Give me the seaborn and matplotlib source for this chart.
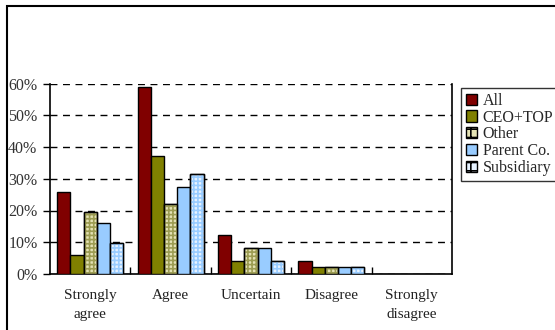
import matplotlib
matplotlib.use("Agg")
import matplotlib.pyplot as plt
from matplotlib.patches import Rectangle, Patch
from matplotlib.ticker import FixedLocator, PercentFormatter
import seaborn as sns
import pandas as pd

categories = ["Strongly\nagree", "Agree", "Uncertain", "Disagree", "Strongly\ndisagree"]
groups = ["All", "CEO+TOP", "Other", "Parent Co.", "Subsidiary"]

all_resp = [25.8, 58.9, 12.2, 4.2, 0.0]
ceo_top = [5.9, 37.3, 4.2, 2.1, 0.0]
other = [19.6, 21.9, 8.1, 2.1, 0.0]
parent_co = [16.1, 27.5, 8.1, 2.1, 0.0]
subsidiary = [9.8, 31.5, 4.2, 2.1, 0.0]

series = [all_resp, ceo_top, other, parent_co, subsidiary]
rows = []
for g, vals in zip(groups, series):
    for c, v in zip(categories, vals):
        rows.append({"category": c, "group": g, "value": v})
df = pd.DataFrame(rows)

face = ["#800000", "#808000", "#e4e2b4", "#99ccff", "#e6f2ff"]
hatch_spec = [None, None, ("++++", "#9c9c52"), None, ("++++", "#99ccff")]

sns.set_theme(style="white")
plt.rcParams["font.family"] = ["Liberation Serif", "DejaVu Serif"]
plt.rcParams["hatch.linewidth"] = 1.2

fig = plt.figure(figsize=(5.55, 3.30), dpi=100)
ax = fig.add_axes([50 / 555, 1 - 274 / 330, 402 / 555, (274 - 83.5) / 330])

sns.barplot(data=df, x="category", y="value", hue="group", order=categories,
            hue_order=groups, palette=face, width=0.82, gap=0, saturation=1,
            edgecolor="black", linewidth=1, ax=ax, legend=False, zorder=3)

# patterned fills for two of the series
for cont, spec in zip(ax.containers, hatch_spec):
    if spec is None:
        continue
    pat, col = spec
    for bar in cont:
        if bar.get_height() <= 0:
            continue
        ov = Rectangle(bar.get_xy(), bar.get_width(), bar.get_height(),
                       facecolor="none", edgecolor=col, hatch=pat, linewidth=0,
                       zorder=3.5)
        ax.add_patch(ov)
        edge = Rectangle(bar.get_xy(), bar.get_width(), bar.get_height(),
                         facecolor="none", edgecolor="black", linewidth=1,
                         zorder=3.6)
        ax.add_patch(edge)

ax.set_xlim(-0.5, len(categories) - 0.5)
ax.set_ylim(0, 60)
ax.yaxis.set_major_locator(FixedLocator([0, 10, 20, 30, 40, 50, 60]))
ax.yaxis.set_major_formatter(PercentFormatter(decimals=0))
ax.grid(axis="y", color="black", linestyle=(0, (5, 4)), linewidth=1, zorder=0)
ax.set_axisbelow(True)

ax.set_xlabel("")
ax.set_ylabel("")
ax.tick_params(axis="y", direction="out", length=5, width=1, color="black",
               labelsize=11.5, labelcolor="#333333", pad=4, left=True)
ax.tick_params(axis="x", which="major", length=0, labelsize=11,
               labelcolor="#222222", pad=11)
for lbl in ax.get_xticklabels():
    lbl.set_linespacing(1.55)
ax.xaxis.set_minor_locator(FixedLocator([0.5, 1.5, 2.5, 3.5]))
ax.tick_params(axis="x", which="minor", direction="in", length=5, width=1,
               color="black", bottom=True)

for side in ["left", "bottom", "right"]:
    ax.spines[side].set_visible(True)
    ax.spines[side].set_color("black")
    ax.spines[side].set_linewidth(1.2)
ax.spines["top"].set_visible(False)

handles = []
for i, g in enumerate(groups):
    spec = hatch_spec[i]
    if spec is None:
        handles.append(Patch(facecolor=face[i], edgecolor="black", linewidth=1, label=g))
    else:
        handles.append(Patch(facecolor=face[i], edgecolor="black", linewidth=1,
                             hatch="++", label=g))
leg = ax.legend(handles=handles, loc="upper left",
                bbox_to_anchor=(461 / 555, 1 - 88 / 330),
                bbox_transform=fig.transFigure, borderaxespad=0,
                frameon=True, fancybox=False, fontsize=11.5,
                handlelength=0.7, handleheight=0.7, handletextpad=0.35,
                labelspacing=0.05, borderpad=0.3)
leg.get_frame().set_edgecolor("black")
leg.get_frame().set_linewidth(1)

# outer chart frame
fig.add_artist(Rectangle((7 / 555, -0.1), 1.2, 1 - 6 / 330 + 0.1,
                         transform=fig.transFigure, fill=False,
                         edgecolor="black", linewidth=1.5))

fig.savefig("out.png", dpi=100, facecolor="white")
